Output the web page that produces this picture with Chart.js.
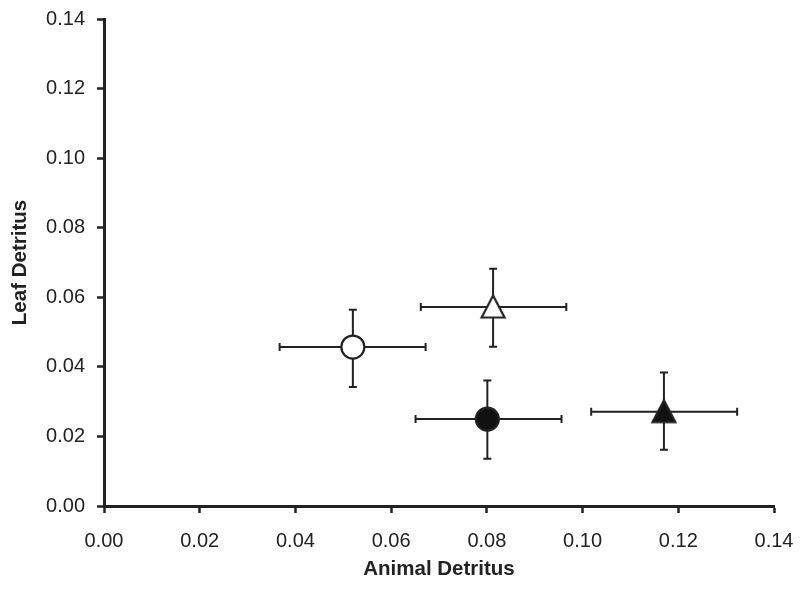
<!DOCTYPE html>
<html>
<head>
<meta charset="utf-8">
<script src="https://cdn.jsdelivr.net/npm/chart.js@4/dist/chart.umd.min.js"></script>
<style>
  html, body { margin: 0; padding: 0; background: #fff; }
</style>
</head>
<body>
<canvas id="chart" width="800" height="590"></canvas>
<script>
// values (means and error bar ends)
const groups = ['open circle', 'open triangle', 'filled circle', 'filled triangle']
const animalMean = [0.0520, 0.0813, 0.0801, 0.1170]
const animalLow = [0.0367, 0.0662, 0.0651, 0.1018]
const animalHigh = [0.0672, 0.0966, 0.0956, 0.1323]
const leafMean = [0.0457, 0.0572, 0.0250, 0.0271]
const leafLow = [0.0342, 0.0458, 0.0136, 0.0162]
const leafHigh = [0.0564, 0.0682, 0.0361, 0.0384]
const tickValues = [0, 0.02, 0.04, 0.06, 0.08, 0.10, 0.12, 0.14]

const ink = '#222'

// triangle marker centred on its bounding box (like the original)
const makeTriangle = (fill) => {
  const c = document.createElement('canvas')
  c.width = 30
  c.height = 30
  const g = c.getContext('2d')
  g.beginPath()
  g.moveTo(15, 3.5)
  g.lineTo(26.5, 25.5)
  g.lineTo(3.5, 25.5)
  g.closePath()
  g.fillStyle = fill
  g.fill()
  g.lineWidth = 2.2
  g.strokeStyle = ink
  g.stroke()
  return c
}

const styles = [
  { pointStyle: 'circle', backgroundColor: '#fff' },
  { pointStyle: makeTriangle('#fff'), backgroundColor: '#fff' },
  { pointStyle: 'circle', backgroundColor: '#111' },
  { pointStyle: makeTriangle('#111'), backgroundColor: '#111' }
]

const datasets = groups.map((g, i) => ({
  label: g,
  data: [{ x: animalMean[i], y: leafMean[i] }],
  pointStyle: styles[i].pointStyle,
  backgroundColor: styles[i].backgroundColor,
  borderColor: ink,
  borderWidth: 2.2,
  pointRadius: 11.5
}))

// error bars, drawn under the markers
const errorBars = {
  id: 'errorBars',
  beforeDatasetsDraw(chart) {
    const { ctx, scales: { x, y } } = chart
    const cap = 4
    ctx.save()
    ctx.strokeStyle = ink
    ctx.lineWidth = 2
    groups.forEach((g, i) => {
      const cx = x.getPixelForValue(animalMean[i])
      const cy = y.getPixelForValue(leafMean[i])
      const x0 = x.getPixelForValue(animalLow[i])
      const x1 = x.getPixelForValue(animalHigh[i])
      const y0 = y.getPixelForValue(leafLow[i])
      const y1 = y.getPixelForValue(leafHigh[i])
      ctx.beginPath()
      ctx.moveTo(x0, cy); ctx.lineTo(x1, cy)
      ctx.moveTo(x0, cy - cap); ctx.lineTo(x0, cy + cap)
      ctx.moveTo(x1, cy - cap); ctx.lineTo(x1, cy + cap)
      ctx.moveTo(cx, y0); ctx.lineTo(cx, y1)
      ctx.moveTo(cx - cap, y0); ctx.lineTo(cx + cap, y0)
      ctx.moveTo(cx - cap, y1); ctx.lineTo(cx + cap, y1)
      ctx.stroke()
    })
    ctx.restore()
  }
}

const tickFont = { family: '"Liberation Sans", Arial, sans-serif', size: 20 }
const titleFont = { family: '"Liberation Sans", Arial, sans-serif', size: 20.5, weight: 'bold' }

// keep the plot box where the original has it
const noOverhang = (scale) => {
  scale.paddingLeft = 0
  scale.paddingRight = 0
  scale.paddingTop = 0
  scale.paddingBottom = 0
}

const axis = (title, extra) => Object.assign({
  type: 'linear',
  min: 0,
  max: 0.14,
  afterBuildTicks: (scale) => { scale.ticks = tickValues.map(v => ({ value: v })) },
  ticks: {
    color: ink,
    font: tickFont,
    callback: (v) => Number(v).toFixed(2)
  },
  grid: {
    drawOnChartArea: false,
    drawTicks: true,
    tickLength: 7,
    tickWidth: 2.5,
    tickColor: ink
  },
  border: { display: true, width: 3, color: ink },
  title: { display: true, text: title, color: ink, font: titleFont }
}, extra)

const xAxis = axis('Animal Detritus', { position: 'bottom' })
xAxis.ticks.padding = 16
xAxis.title.padding = { top: 0, bottom: 8 }
xAxis.afterFit = (scale) => { scale.height = 84; noOverhang(scale) }

const yAxis = axis('Leaf Detritus', { position: 'left' })
yAxis.ticks.padding = 12
yAxis.title.padding = { top: 8, bottom: 0 }
yAxis.afterFit = (scale) => { scale.width = 104; noOverhang(scale) }

new Chart(document.getElementById('chart'), {
  type: 'scatter',
  data: { datasets },
  options: {
    responsive: false,
    animation: false,
    events: [],
    layout: { padding: { top: 19, right: 26, bottom: 0, left: 0 } },
    plugins: { legend: { display: false }, tooltip: { enabled: false } },
    scales: { x: xAxis, y: yAxis }
  },
  plugins: [errorBars]
})
</script>
</body>
</html>
